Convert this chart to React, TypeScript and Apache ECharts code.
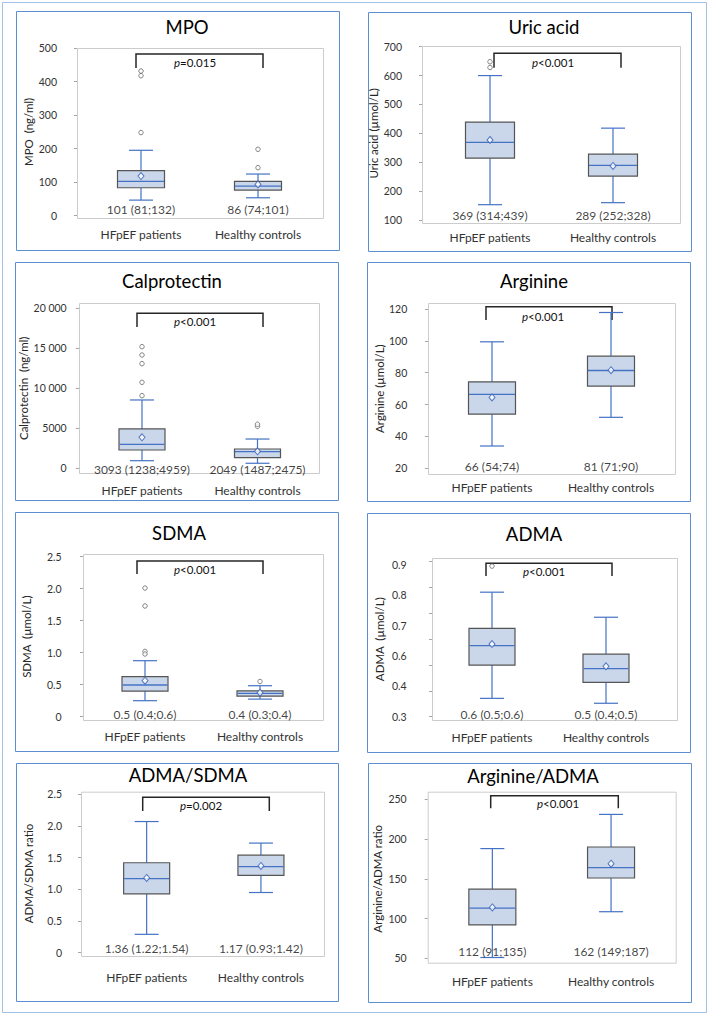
import React, { useEffect, useRef } from 'react';
import * as echarts from 'echarts';

// ---------- data ----------
const categories = ['HFpEF patients', 'Healthy controls'];

// box rows: [lower whisker, Q1, median, Q3, upper whisker]
const mpoBox = [[46, 83, 102, 134, 195], [53, 76, 88, 102, 124]];
const mpoMean = [118, 93];
const mpoOutliers = [[0, 432], [0, 418], [0, 248], [1, 198], [1, 143]];
const mpoSummary = ['101 (81;132)', '86 (74;101)'];
const mpoTicks = ['0', '100', '200', '300', '400', '500'];

const uricBox = [[153, 314, 369, 439, 600], [160, 252, 289, 328, 418]];
const uricMean = [377, 287];
const uricOutliers = [[0, 628], [0, 648]];
const uricSummary = ['369 (314;439)', '289 (252;328)'];
const uricTicks = ['100', '200', '300', '400', '500', '600', '700'];

const calBox = [[950, 2290, 3000, 4920, 8540], [630, 1330, 2075, 2410, 3660]];
const calMean = [3880, 2130];
const calOutliers = [[0, 9080], [0, 10750], [0, 13080], [0, 14160], [0, 15200], [1, 5250], [1, 5500]];
const calSummary = ['3093 (1238;4959)', '2049 (1487;2475)'];
const calTicks = ['0', '5000', '10 000', '15 000', '20 000'];

const argBox = [[34, 54, 66.4, 74.3, 99.4], [52, 71.6, 81.4, 90.4, 117.8]];
const argMean = [64.5, 81.6];
const argOutliers: number[][] = [];
const argSummary = ['66 (54;74)', '81 (71;90)'];
const argTicks = ['20', '40', '60', '80', '100', '120'];

const sdmaBox = [[0.25, 0.40, 0.495, 0.625, 0.875], [0.275, 0.32, 0.365, 0.405, 0.484]];
const sdmaMean = [0.5625, 0.375];
const sdmaOutliers = [[0, 2.01], [0, 1.73], [0, 1.02], [0, 0.98], [1, 0.55]];
const sdmaSummary = ['0.5 (0.4;0.6)', '0.4 (0.3;0.4)'];
const sdmaTicks = ['0', '0.5', '1.0', '1.5', '2.0', '2.5'];

const admaBox = [[0.371, 0.500, 0.575, 0.642, 0.782], [0.352, 0.433, 0.486, 0.542, 0.685]];
const admaMean = [0.581, 0.495];
const admaOutliers = [[0, 0.883]];
const admaSummary = ['0.6 (0.5;0.6)', '0.5 (0.4;0.5)'];
const admaTickValues = [0.3, 0.4, 0.5, 0.6, 0.7, 0.8, 0.9];
const admaTicks = ['0.3', '0.4', '0.6', '0.7', '0.8', '0.9'];

const ratioBox = [[0.29, 0.93, 1.17, 1.42, 2.07], [0.95, 1.22, 1.36, 1.54, 1.73]];
const ratioMean = [1.18, 1.37];
const ratioOutliers: number[][] = [];
const ratioSummary = ['1.36 (1.22;1.54)', '1.17 (0.93;1.42)'];
const ratioTicks = ['0', '0.5', '1.0', '1.5', '2.0', '2.5'];

const argAdmaBox = [[51, 92, 113, 137, 188], [108.6, 151, 164, 190, 231]];
const argAdmaMean = [114, 169];
const argAdmaOutliers: number[][] = [];
const argAdmaSummary = ['112 (91;135)', '162 (149;187)'];
const argAdmaTicks = ['50', '100', '150', '200', '250'];

// ---------- styles ----------
const FONT = 'Lato, "Open Sans", sans-serif';
const BLUE = '#4472c4';
const BOX_FILL = '#cad7ea';
const BOX_BORDER = '#555555';
const PANEL_BORDER = '#5b8fd0';
const OUTER_BORDER = '#a3c0e6';
const FRAME = '#cccccc';
const TEXT = '#262626';

type Layout = {
  border: number[]; frame: number[]; gridL: number; gridW: number; yTop: number; yBot: number;
  title: number[]; labelRight: number; nameX: number; catY: number; annotY: number;
  bracket: number[]; pPos: number[]; boxW: number;
};

const panels: any[] = [
  {
    title: 'MPO', yName: 'MPO  (ng/ml)', box: mpoBox, mean: mpoMean, outliers: mpoOutliers,
    summary: mpoSummary, p: '=0.015', ticks: mpoTicks, min: 0, interval: 100,
    layout: { border: [16, 11, 339, 250], frame: [77, 48, 323, 218], gridL: 82.5, gridW: 234, yTop: 48.3, yBot: 215.5,
      title: [187, 27], labelRight: 57, nameX: 30, catY: 234, annotY: 209, bracket: [136, 263, 54, 68], pPos: [195, 62], boxW: 47 },
  },
  {
    title: 'Uric acid', yName: 'Uric acid (µmol/L)', box: uricBox, mean: uricMean, outliers: uricOutliers,
    summary: uricSummary, p: '<0.001', ticks: uricTicks, min: 100, interval: 100,
    layout: { border: [368, 12, 691, 251], frame: [422, 46, 680, 223], gridL: 428.5, gridW: 246, yTop: 46.7, yBot: 220,
      title: [544, 27], labelRight: 402, nameX: 378, catY: 237, annotY: 215, bracket: [494, 621, 53.3, 67.7], pPos: [553, 62], boxW: 49 },
  },
  {
    title: 'Calprotectin', yName: 'Calprotectin  (ng/ml)', box: calBox, mean: calMean, outliers: calOutliers,
    summary: calSummary, p: '<0.001', ticks: calTicks, min: 0, interval: 5000,
    layout: { border: [15, 262, 338, 500], frame: [79, 303, 319, 473], gridL: 84.25, gridW: 231, yTop: 308.3, yBot: 468.3,
      title: [172, 281], labelRight: 66.7, nameX: 25, catY: 490, annotY: 469, bracket: [137, 263, 313.3, 327], pPos: [195, 321], boxW: 46 },
  },
  {
    title: 'Arginine', yName: 'Arginine (µmol/L)', box: argBox, mean: argMean, outliers: argOutliers,
    summary: argSummary, p: '<0.001', ticks: argTicks, min: 20, interval: 20,
    layout: { border: [367, 262, 690, 501], frame: [428, 303, 675, 474], gridL: 432.5, gridW: 238, yTop: 309, yBot: 468.3,
      title: [534, 281], labelRight: 407.3, nameX: 380, catY: 487.7, annotY: 466.7, bracket: [486, 612, 306.7, 320], pPos: [543, 316], boxW: 47 },
  },
  {
    title: 'SDMA', yName: 'SDMA  (µmol/L)', box: sdmaBox, mean: sdmaMean, outliers: sdmaOutliers,
    summary: sdmaSummary, p: '<0.001', ticks: sdmaTicks, min: 0, interval: 0.5,
    layout: { border: [15, 512, 338, 751], frame: [83, 554, 323, 720], gridL: 87.5, gridW: 230, yTop: 556.7, yBot: 716.7,
      title: [179, 533], labelRight: 61.7, nameX: 27, catY: 736.7, annotY: 714, bracket: [137, 263, 561, 574], pPos: [195, 569], boxW: 46 },
  },
  {
    title: 'ADMA', yName: 'ADMA  (µmol/L)', box: admaBox, mean: admaMean, outliers: admaOutliers,
    summary: admaSummary, p: '<0.001', ticks: null, tickValues: admaTickValues, labelList: admaTicks, min: 0.3, interval: 0.1,
    layout: { border: [367, 513, 690, 752], frame: [432, 558, 677, 720], gridL: 435, gridW: 228, yTop: 561.7, yBot: 716.7,
      title: [534, 534], labelRight: 406.7, nameX: 380, catY: 737.7, annotY: 714, bracket: [486, 612, 563.3, 576], pPos: [544, 571.7], boxW: 46,
      labelTop: 565 },
  },
  {
    title: 'ADMA/SDMA', yName: 'ADMA/SDMA ratio', box: ratioBox, mean: ratioMean, outliers: ratioOutliers,
    summary: ratioSummary, p: '=0.002', ticks: ratioTicks, min: 0, interval: 0.5,
    layout: { border: [16, 763, 338, 1001], frame: [81, 791.7, 324, 956], gridL: 89.5, gridW: 228.6, yTop: 794.3, yBot: 952.7,
      title: [188, 775], labelRight: 62, nameX: 29, catY: 977.7, annotY: 948.3, bracket: [142.7, 269.3, 797.3, 811], pPos: [201, 805], boxW: 46 },
  },
  {
    title: 'Arginine/ADMA', yName: 'Arginine/ADMA ratio', box: argAdmaBox, mean: argAdmaMean, outliers: argAdmaOutliers,
    summary: argAdmaSummary, p: '<0.001', ticks: argAdmaTicks, min: 50, interval: 50,
    layout: { border: [368, 763, 691, 1002], frame: [427.7, 791.7, 675.7, 962.7], gridL: 433, gridW: 237.4, yTop: 799.3, yBot: 958.3,
      title: [533, 776], labelRight: 406.7, nameX: 377.7, catY: 981, annotY: 951.7, bracket: [490.7, 618.3, 795.7, 808.3], pPos: [558, 803.3], boxW: 47 },
  },
];

const TICK_FS = 10.5;
const CAT_FS = 12;
const NAME_FS = 11.5;
const ANNOT_FS = 12;
const TITLE_FS = 18.5;
const P_FS = 11.5;

function buildOption() {
  const grid: any[] = [];
  const xAxis: any[] = [];
  const yAxis: any[] = [];
  const series: any[] = [];
  const graphic: any[] = [];

  graphic.push({ type: 'rect', shape: { x: 2.5, y: 2.5, width: 704, height: 1010 }, style: { fill: 'none', stroke: OUTER_BORDER, lineWidth: 1 }, silent: true });

  panels.forEach((pnl, i) => {
    const L: Layout = pnl.layout;
    const frameLeft = L.frame[0];
    grid.push({ left: L.gridL, top: L.yTop, width: L.gridW, height: L.yBot - L.yTop });
    xAxis.push({
      type: 'category', gridIndex: i, data: categories, boundaryGap: true,
      axisLine: { show: false }, axisTick: { show: false }, splitLine: { show: false },
      axisLabel: { interval: 0, hideOverlap: false, margin: L.catY - L.yBot - CAT_FS / 2, fontSize: CAT_FS, color: '#333333', fontFamily: FONT },
    });
    const nTicks = pnl.ticks ? pnl.ticks.length : pnl.tickValues.length;
    const max = pnl.min + pnl.interval * (nTicks - 1);
    const mainIdx = yAxis.length;
    yAxis.push({
      type: 'value', gridIndex: i, position: 'left', min: pnl.min, max, interval: pnl.interval,
      offset: L.gridL - frameLeft,
      axisLine: { show: false },
      axisTick: { show: true, length: 3, lineStyle: { color: '#a6a6a6' } },
      splitLine: { show: false },
      axisLabel: pnl.ticks
        ? {
            show: true, margin: frameLeft - L.labelRight, fontSize: TICK_FS, color: '#333333', fontFamily: FONT,
            formatter: (v: number) => {
              const k = Math.round((v - pnl.min) / pnl.interval);
              return Math.abs(pnl.min + k * pnl.interval - v) < 1e-9 ? (pnl.ticks[k] ?? '') : '';
            },
          }
        : { show: false },
      name: pnl.yName, nameLocation: 'middle', nameRotate: 90,
      nameGap: frameLeft - L.nameX - NAME_FS / 2,
      nameTextStyle: { fontSize: NAME_FS, color: TEXT, fontFamily: FONT },
    });
    if (!pnl.ticks) {
      const step = (L.yBot - (L as any).labelTop) / (pnl.labelList.length - 1);
      const lmax = (L.yBot - L.yTop) / step;
      yAxis.push({
        type: 'value', gridIndex: i, position: 'left', min: 0, max: lmax, interval: 1,
        offset: L.gridL - frameLeft,
        axisLine: { show: false }, axisTick: { show: false }, splitLine: { show: false },
        axisLabel: {
          margin: frameLeft - L.labelRight, fontSize: TICK_FS, color: '#333333', fontFamily: FONT,
          formatter: (v: number) => (Math.abs(v - Math.round(v)) < 1e-9 ? (pnl.labelList[Math.round(v)] ?? '') : ''),
        },
      });
    }

    const boxW = L.boxW;
    series.push({
      type: 'custom', xAxisIndex: i, yAxisIndex: mainIdx, silent: true, z: 2,
      data: pnl.box.map((b: number[], k: number) => [k, ...b]),
      encode: { x: 0, y: [1, 2, 3, 4, 5] },
      renderItem: (params: any, api: any) => {
        const k = api.value(0);
        const pLow = api.coord([k, api.value(1)]);
        const cx = pLow[0];
        const yLow = pLow[1];
        const yQ1 = api.coord([k, api.value(2)])[1];
        const yMed = api.coord([k, api.value(3)])[1];
        const yQ3 = api.coord([k, api.value(4)])[1];
        const yHigh = api.coord([k, api.value(5)])[1];
        const cw = 24;
        const ws = { stroke: BLUE, lineWidth: 1.2 };
        return {
          type: 'group',
          children: [
            { type: 'line', shape: { x1: cx, y1: yHigh, x2: cx, y2: yQ3 }, style: ws },
            { type: 'line', shape: { x1: cx, y1: yQ1, x2: cx, y2: yLow }, style: ws },
            { type: 'line', shape: { x1: cx - cw / 2, y1: yHigh, x2: cx + cw / 2, y2: yHigh }, style: ws },
            { type: 'line', shape: { x1: cx - cw / 2, y1: yLow, x2: cx + cw / 2, y2: yLow }, style: ws },
            { type: 'rect', shape: { x: cx - boxW / 2, y: yQ3, width: boxW, height: yQ1 - yQ3 }, style: { fill: BOX_FILL, stroke: BOX_BORDER, lineWidth: 1.2 } },
            { type: 'line', shape: { x1: cx - boxW / 2 + 0.5, y1: yMed, x2: cx + boxW / 2 - 0.5, y2: yMed }, style: { stroke: BLUE, lineWidth: 1.3 } },
          ],
        };
      },
    });
    series.push({
      type: 'scatter', xAxisIndex: i, yAxisIndex: mainIdx, silent: true, z: 3,
      data: pnl.outliers, symbol: 'circle', symbolSize: 4.5,
      itemStyle: { color: '#ffffff', borderColor: '#666666', borderWidth: 1 },
    });
    series.push({
      type: 'scatter', xAxisIndex: i, yAxisIndex: mainIdx, silent: true, z: 4,
      data: pnl.mean.map((m: number, k: number) => [k, m]), symbol: 'diamond', symbolSize: [6, 7],
      itemStyle: { color: '#ffffff', borderColor: '#2f5bb7', borderWidth: 1 },
    });
    series.push({
      type: 'scatter', xAxisIndex: i, yAxisIndex: mainIdx, silent: true, z: 5,
      data: pnl.summary.map((s: string, k: number) => [k, pnl.min]), symbolSize: 0,
      label: {
        show: true, position: 'inside', offset: [0, L.annotY - L.yBot],
        formatter: (p: any) => pnl.summary[p.dataIndex],
        fontSize: ANNOT_FS, color: '#111111', fontFamily: FONT,
      },
    });

    // panel decorations
    const [bx1, by1, bx2, by2] = L.border;
    graphic.push({ type: 'rect', silent: true, shape: { x: bx1 + 0.5, y: by1 + 0.5, width: bx2 - bx1, height: by2 - by1 }, style: { fill: 'none', stroke: PANEL_BORDER, lineWidth: 1 } });
    const [fx1, fy1, fx2, fy2] = L.frame;
    graphic.push({ type: 'rect', silent: true, z: -1, shape: { x: fx1 + 0.5, y: fy1 + 0.5, width: fx2 - fx1, height: fy2 - fy1 }, style: { fill: 'none', stroke: FRAME, lineWidth: 1 } });
    graphic.push({ type: 'text', silent: true, x: L.title[0], y: L.title[1], style: { text: pnl.title, fontSize: TITLE_FS, fontFamily: FONT, fill: '#000000', align: 'center', verticalAlign: 'middle' } });
    const [kx1, kx2, ky1, ky2] = L.bracket;
    graphic.push({ type: 'polyline', silent: true, shape: { points: [[kx1, ky2], [kx1, ky1], [kx2, ky1], [kx2, ky2]] }, style: { fill: 'none', stroke: '#262626', lineWidth: 1.5 } });
    graphic.push({
      type: 'text', silent: true, x: L.pPos[0], y: L.pPos[1],
      style: {
        text: '{i|p}{n|' + pnl.p + '}', align: 'center', verticalAlign: 'middle', fontSize: P_FS, fontFamily: FONT, fill: '#111111',
        rich: { i: { fontStyle: 'italic', fontSize: P_FS, fontFamily: FONT, fill: '#111111' }, n: { fontSize: P_FS, fontFamily: FONT, fill: '#111111' } },
      },
    });
  });

  return { animation: false, backgroundColor: '#ffffff', grid, xAxis, yAxis, series, graphic };
}

export default function App() {
  const ref = useRef<HTMLDivElement>(null);
  useEffect(() => {
    if (!ref.current) return;
    const chart = echarts.init(ref.current, undefined, { renderer: 'svg' });
    chart.setOption(buildOption() as any);
    return () => chart.dispose();
  }, []);
  return <div ref={ref} style={{ position: 'absolute', left: 0, top: 0, width: 709, height: 1015 }} />;
}
